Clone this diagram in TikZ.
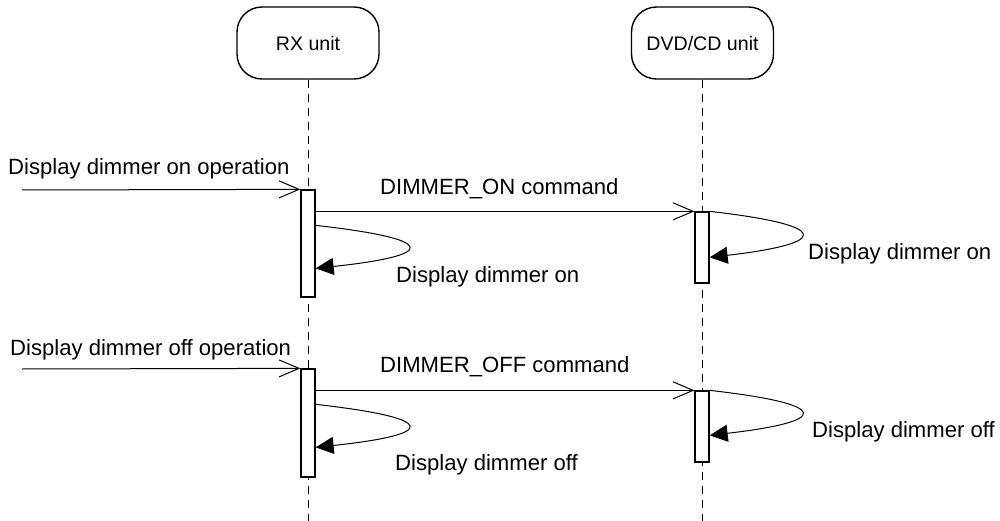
\documentclass[tikz,border=0pt]{standalone}
\usepackage{fontspec}
\setmainfont{Liberation Sans}
\usetikzlibrary{arrows.meta}
\begin{document}
\begin{tikzpicture}[x=1pt,y=-1pt,
 unit/.style={draw,line width=1.4pt,rounded corners=25pt,minimum width=142pt,minimum height=72pt,font=\fontsize{19.6}{22}\selectfont,inner sep=0pt},
 act/.style={draw,fill=white,line width=1.3pt,minimum width=14pt,inner sep=0pt},
 life/.style={line width=1pt,dash pattern=on 8pt off 6pt},
 msg/.style={line width=1pt,-{Straight Barb[length=20pt,width=17pt]}},
 selfmsg/.style={line width=1pt,-{Triangle[length=18pt,width=17pt]}},
 lbl/.style={font=\fontsize{22.1}{26}\selectfont,inner sep=0pt,anchor=base west}
]
\useasboundingbox (0,0) rectangle (1000,521);
% lifeline heads
\node[unit] (rx) at (308,43) {RX unit};
\node[unit] (dvd) at (702.5,43) {DVD/CD unit};
\coordinate (rxend) at (308,521);
\coordinate (dvdend) at (702,521);
\draw[life] (rx.south) -- (rxend);
\draw[life] (dvd.south -| dvdend) -- (dvdend);
% activations
\node[act,minimum height=107pt] (a1) at (308,243.5) {};
\node[act,minimum height=71pt] (b1) at (702,247.5) {};
\node[act,minimum height=108pt] (a2) at (308,423) {};
\node[act,minimum height=71pt] (b2) at (702,426.5) {};
% incoming operations
\coordinate (in1) at (22,190);
\coordinate (in2) at (22,369);
\draw[msg] (in1) -- (a1.north west);
\draw[msg] (in2) -- (a2.north west);
% commands
\draw[msg] (a1.east |- b1.north) -- (b1.north west);
\draw[msg] (a2.east |- b2.north) -- (b2.north west);
% self messages
\draw[selfmsg] ([yshift=-36pt]a1.north east) .. controls +(124,14) and +(122,-13) .. ([yshift=-79pt]a1.north east);
\draw[selfmsg] ([yshift=-36pt]a2.north east) .. controls +(124,14) and +(122,-13) .. ([yshift=-79pt]a2.north east);
\draw[selfmsg] (b1.north east) .. controls +(123,14) and +(121,-14) .. ([yshift=-46pt]b1.north east);
\draw[selfmsg] (b2.north east) .. controls +(123,14) and +(121,-14) .. ([yshift=-45pt]b2.north east);
% labels
\node[lbl] (op1) at (8,175) {Display dimmer on operation};
\node[lbl] (cmd1) at (380,195) {DIMMER\_ON command};
\node[lbl] (rxl1) at (396,282) {Display dimmer on};
\node[lbl] (dvl1) at (808,259) {Display dimmer on};
\node[lbl] (op2) at (10,355) {Display dimmer off operation};
\node[lbl] (cmd2) at (380,372) {DIMMER\_OFF command};
\node[lbl] (rxl2) at (395,470) {Display dimmer off};
\node[lbl] (dvl2) at (812,437) {Display dimmer off};
\end{tikzpicture}
\end{document}
